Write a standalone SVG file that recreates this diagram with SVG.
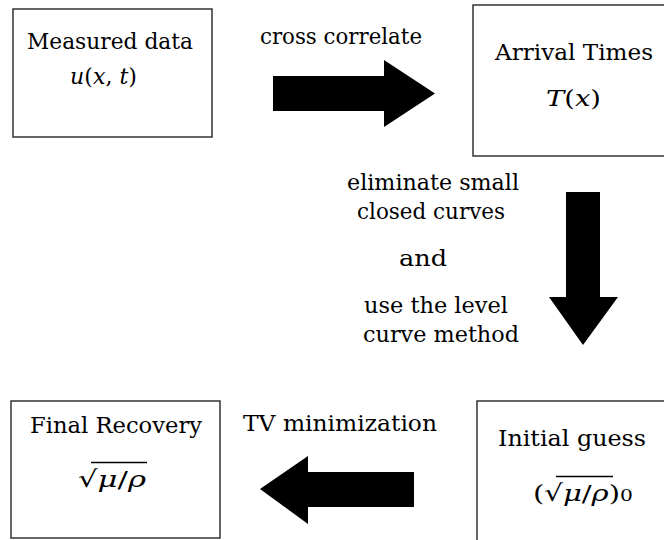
<svg xmlns="http://www.w3.org/2000/svg" width="664" height="540" viewBox="0 0 664 540">
<style>
.box{fill:#fff;stroke:#333;stroke-width:1.5}
.t{font-family:"DejaVu Serif","Liberation Serif",serif;font-size:23px;fill:#000}
.m{font-family:"DejaVu Serif","Liberation Serif",serif;font-style:italic}
.arrow{fill:#000}
.vin{stroke:#000;stroke-width:1.3}
</style>
<rect width="664" height="540" fill="#fff"/>
<g id="connectors">
<polygon class="arrow" points="273,76 384,76 384,60 435,93.5 384,127 384,111 273,111"/>
<polygon class="arrow" points="566,192 600,192 600,297 618,297 583,345 549,297 566,297"/>
<polygon class="arrow" points="414,472 308,472 308,456 260,489 308,524 308,507 414,507"/>
<text class="t" x="260" y="44" textLength="162" lengthAdjust="spacingAndGlyphs">cross correlate</text>
<text class="t" x="347" y="190" textLength="172" lengthAdjust="spacingAndGlyphs">eliminate small</text>
<text class="t" x="357" y="219" textLength="148" lengthAdjust="spacingAndGlyphs">closed curves</text>
<text class="t" x="399" y="266" textLength="48" lengthAdjust="spacingAndGlyphs">and</text>
<text class="t" x="364" y="313" textLength="144" lengthAdjust="spacingAndGlyphs">use the level</text>
<text class="t" x="363" y="342" textLength="156" lengthAdjust="spacingAndGlyphs">curve method</text>
<text class="t" x="243" y="431" textLength="194" lengthAdjust="spacingAndGlyphs">TV minimization</text>
</g>
<g id="measured">
<rect class="box" x="13" y="9" width="199" height="128"/>
<text class="t" x="27" y="49" textLength="166" lengthAdjust="spacingAndGlyphs">Measured data</text>
<text class="t" x="70" y="84" textLength="67" lengthAdjust="spacingAndGlyphs"><tspan class="m">u</tspan>(<tspan class="m">x</tspan>, <tspan class="m">t</tspan>)</text>
</g>
<g id="arrival">
<rect class="box" x="473" y="5" width="200" height="151"/>
<text class="t" x="495" y="60" textLength="158" lengthAdjust="spacingAndGlyphs">Arrival Times</text>
<text class="t" x="546" y="106" textLength="55" lengthAdjust="spacingAndGlyphs"><tspan class="m">T</tspan>(<tspan class="m">x</tspan>)</text>
</g>
<g id="final">
<rect class="box" x="11" y="401" width="209" height="137"/>
<text class="t" x="30" y="433" textLength="172" lengthAdjust="spacingAndGlyphs">Final Recovery</text>
<text class="t" x="78" y="487" textLength="68" lengthAdjust="spacingAndGlyphs">√<tspan class="m">μ</tspan>/<tspan class="m">ρ</tspan></text>
<line class="vin" x1="91" y1="462.5" x2="147" y2="462.5"/>
</g>
<g id="initial">
<rect class="box" x="477" y="401" width="200" height="150"/>
<text class="t" x="498" y="446" textLength="148" lengthAdjust="spacingAndGlyphs">Initial guess</text>
<text class="t" x="533" y="501" textLength="100" lengthAdjust="spacingAndGlyphs">(√<tspan class="m">μ</tspan>/<tspan class="m">ρ</tspan>)<tspan font-size="16">0</tspan></text>
<line class="vin" x1="556" y1="476.5" x2="613" y2="476.5"/>
</g>
</svg>
